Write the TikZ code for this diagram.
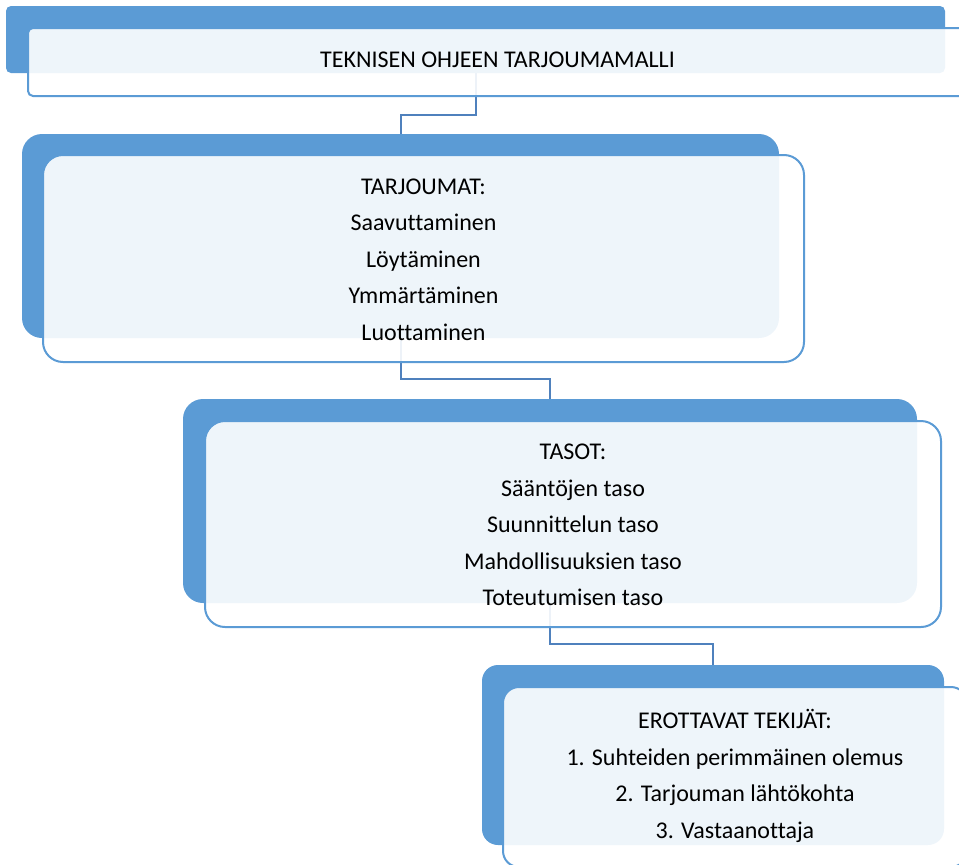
\documentclass[tikz,border=0pt]{standalone}
\usepackage{fontspec}
\setmainfont{Carlito}[Ligatures=CommonOff]
\usetikzlibrary{calc}
\definecolor{boxblue}{HTML}{5B9BD5}
\definecolor{connblue}{HTML}{4F81BD}
\begin{document}
\begin{tikzpicture}[x=1pt,y=-1pt,
  backbox/.style={fill=boxblue, draw=none, inner sep=0pt, outer sep=0pt, anchor=north west},
  frontbox/.style={fill=white, fill opacity=0.9, draw=boxblue, draw opacity=1, line width=2pt, inner sep=0pt, outer sep=0pt, anchor=north west},
  conn/.style={draw=connblue, line width=2pt},
  txt/.style={align=center, text=black, font=\fontsize{24}{36.6}\selectfont, inner sep=0pt}]
\useasboundingbox (0,0) rectangle (959,865);
\clip (0,0) rectangle (959,865);
% back boxes (named first so that connectors can use them)
\path (6,6) node[backbox, minimum width=939pt, minimum height=67pt, rounded corners=5pt] (b1) {};
\path (22,134) node[backbox, minimum width=757pt, minimum height=204pt, rounded corners=20pt] (b2) {};
\path (183,399) node[backbox, minimum width=734pt, minimum height=204pt, rounded corners=20pt] (b3) {};
\path (482,665) node[backbox, minimum width=462pt, minimum height=180pt, rounded corners=16pt] (b4) {};
% connector elbow levels
\coordinate (m1) at (0,115);
\coordinate (m2) at (0,379);
\coordinate (m3) at (0,644);
% connectors (behind the front boxes)
\draw[conn] (b1.south) -- (b1.south |- m1) -| (b2.north);
\draw[conn] (b2.south) -- (b2.south |- m2) -| (b3.north);
\draw[conn] (b3.south) -- (b3.south |- m3) -| (b4.north);
% front boxes
\path (28,28) node[frontbox, minimum width=939pt, minimum height=68pt, rounded corners=5pt] (f1) {};
\path (43,155) node[frontbox, minimum width=761pt, minimum height=207pt, rounded corners=20pt] (f2) {};
\path (205,421) node[frontbox, minimum width=736pt, minimum height=206pt, rounded corners=20pt] (f3) {};
\path (503,687) node[frontbox, minimum width=464pt, minimum height=180pt, rounded corners=16pt] (f4) {};
% texts
\node[txt] (t1) at ($(f1.center)+(0,-2)$) {TEKNISEN OHJEEN TARJOUMAMALLI};
\node[txt] (t2) at ($(f2.center)+(0,1)$) {TARJOUMAT:\\Saavuttaminen\\Löytäminen\\Ymmärtäminen\\Luottaminen};
\node[txt] (t3) at ($(f3.center)+(0,1)$) {TASOT:\\Sääntöjen taso\\Suunnittelun taso\\Mahdollisuuksien taso\\Toteutumisen taso};
\node[txt] (t4) at ($(f4.center)+(0,-1)$) {EROTTAVAT TEKIJÄT:\\1. Suhteiden perimmäinen olemus\\2. Tarjouman lähtökohta\\3. Vastaanottaja};
\end{tikzpicture}
\end{document}
